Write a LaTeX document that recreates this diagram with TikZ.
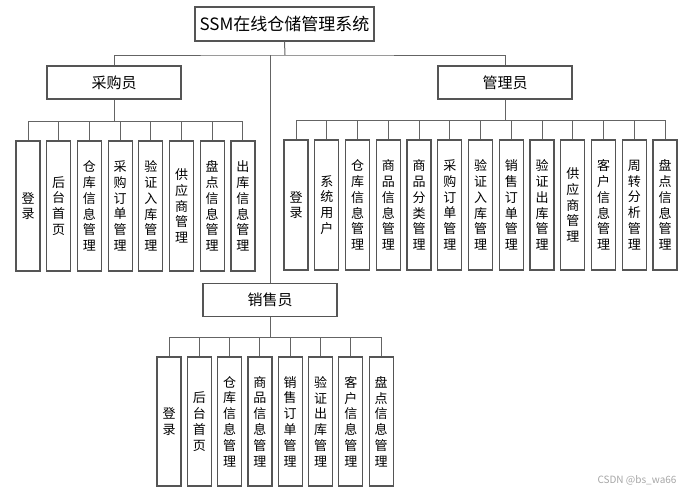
\documentclass[tikz,border=0pt]{standalone}
\usepackage{fontspec}
\newfontfamily\cjk{Noto Sans CJK SC}
\usetikzlibrary{positioning, calc}
\definecolor{boxline}{RGB}{85,85,85}
\definecolor{wireline}{RGB}{100,100,100}

\begin{document}
\begin{tikzpicture}[
    x=1pt, y=-1pt,
    topbox/.style={rectangle, draw=boxline, line width=1.2pt, minimum width=179pt, minimum height=34pt, inner sep=0pt, font=\cjk\fontsize{17}{19}\selectfont},
    rolebox/.style={rectangle, draw=boxline, line width=1.2pt, minimum width=134pt, minimum height=33pt, inner sep=0pt, font=\cjk\fontsize{15}{17}\selectfont},
    leafbox/.style={rectangle, draw=boxline, line width=1.2pt, minimum width=24pt, minimum height=130pt, inner sep=0pt, align=center, font=\cjk\fontsize{13}{15.8}\selectfont},
    wire/.style={draw=wireline, line width=1pt},
]
\useasboundingbox (0,0) rectangle (688,496);

% Root
\node[topbox] (root) at (284.5,24) {SSM在线仓储管理系统};
\coordinate (hub) at (285,55);

% Roles
\node[rolebox] (buyer) at (114,82.5) {采购员};
\node[rolebox] (admin) at (505,82.5) {管理员};
\node[rolebox] (sales) at (270,300) {销售员};

\draw[wire] (root.south) -- (hub);
\draw[wire] (buyer.north) |- (hub) -| (admin.north);
\draw[wire] (sales.north) -- (sales.north |- hub);

% Buyer modules
\coordinate (buyerbus) at (114,121);
\draw[wire] (buyer.south) -- (buyerbus);
\foreach \t [count=\i] in {登\\录, 后\\台\\首\\页, 仓\\库\\信\\息\\管\\理, 采\\购\\订\\单\\管\\理,
    验\\证\\入\\库\\管\\理, 供\\应\\商\\管\\理, 盘\\点\\信\\息\\管\\理, 出\\库\\信\\息\\管\\理} {
  \node[leafbox] (b\i) at ({28+30.7*(\i-1)},206) {\t};
  \draw[wire] (b\i.north) |- (buyerbus);
}

% Admin modules
\coordinate (adminbus) at (505,120);
\draw[wire] (admin.south) -- (adminbus);
\foreach \t [count=\i] in {登\\录, 系\\统\\用\\户, 仓\\库\\信\\息\\管\\理, 商\\品\\信\\息\\管\\理,
    商\\品\\分\\类\\管\\理, 采\\购\\订\\单\\管\\理, 验\\证\\入\\库\\管\\理, 销\\售\\订\\单\\管\\理,
    验\\证\\出\\库\\管\\理, 供\\应\\商\\管\\理, 客\\户\\信\\息\\管\\理, 周\\转\\分\\析\\管\\理,
    盘\\点\\信\\息\\管\\理} {
  \node[leafbox] (a\i) at ({296+30.75*(\i-1)},205) {\t};
  \draw[wire] (a\i.north) |- (adminbus);
}

% Sales modules
\coordinate (salesbus) at (270,337);
\draw[wire] (sales.south) -- (salesbus);
\foreach \t [count=\i] in {登\\录, 后\\台\\首\\页, 仓\\库\\信\\息\\管\\理, 商\\品\\信\\息\\管\\理,
    销\\售\\订\\单\\管\\理, 验\\证\\出\\库\\管\\理, 客\\户\\信\\息\\管\\理, 盘\\点\\信\\息\\管\\理} {
  \node[leafbox, minimum height=129pt] (s\i) at ({169+30.3*(\i-1)},421.5) {\t};
  \draw[wire] (s\i.north) |- (salesbus);
}

% Watermark
\node[font=\cjk\fontsize{10}{12}\selectfont, text=black!35, anchor=east] (mark) at (680,480) {CSDN @bs\_wa66};

\end{tikzpicture}
\end{document}
